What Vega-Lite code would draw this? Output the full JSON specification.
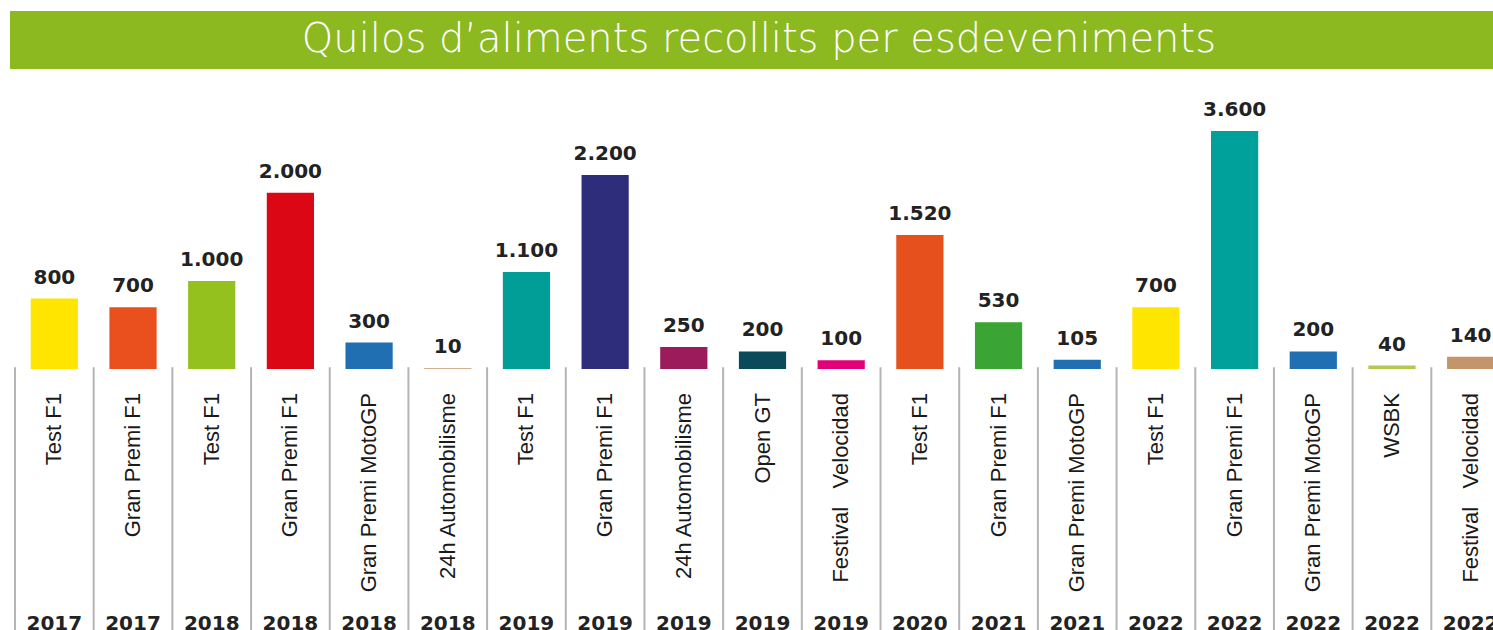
{
  "$schema": "https://vega.github.io/schema/vega-lite/v6.json",
  "padding": {"left": 10, "top": 11, "right": 0, "bottom": 0},
  "background": "white",
  "spacing": 31,
  "config": {
    "view": {"stroke": null},
    "locale": {"number": {"decimal": ",", "thousands": ".", "grouping": [3], "currency": ["", " €"]}}
  },
  "vconcat": [
    {
      "width": 1483,
      "height": 58,
      "view": {"fill": "#8CB820", "stroke": null},
      "data": {"values": [{"title": "Quilos d’aliments recollits per esdeveniments"}]},
      "mark": {"type": "text", "font": "DejaVu Sans", "fontSize": 40, "fontWeight": 300, "color": "white", "baseline": "middle", "align": "center"},
      "encoding": {
        "x": {"datum": 0.505, "type": "quantitative", "scale": {"domain": [0, 1]}, "axis": null},
        "y": {"datum": 0.5, "type": "quantitative", "scale": {"domain": [0, 1]}, "axis": null},
        "text": {"field": "title"}
      }
    },
    {
      "width": 1483,
      "height": 500,
      "data": {"values": [
        {"id": 1, "event": "Test F1", "year": "2017", "kg": 800},
        {"id": 2, "event": "Gran Premi F1", "year": "2017", "kg": 700},
        {"id": 3, "event": "Test F1", "year": "2018", "kg": 1000},
        {"id": 4, "event": "Gran Premi F1", "year": "2018", "kg": 2000},
        {"id": 5, "event": "Gran Premi MotoGP", "year": "2018", "kg": 300},
        {"id": 6, "event": "24h Automobilisme", "year": "2018", "kg": 10},
        {"id": 7, "event": "Test F1", "year": "2019", "kg": 1100},
        {"id": 8, "event": "Gran Premi F1", "year": "2019", "kg": 2200},
        {"id": 9, "event": "24h Automobilisme", "year": "2019", "kg": 250},
        {"id": 10, "event": "Open GT", "year": "2019", "kg": 200},
        {"id": 11, "event": "Festival\u00a0\u00a0 Velocidad", "year": "2019", "kg": 100},
        {"id": 12, "event": "Test F1", "year": "2020", "kg": 1520},
        {"id": 13, "event": "Gran Premi F1", "year": "2021", "kg": 530},
        {"id": 14, "event": "Gran Premi MotoGP", "year": "2021", "kg": 105},
        {"id": 15, "event": "Test F1", "year": "2022", "kg": 700},
        {"id": 16, "event": "Gran Premi F1", "year": "2022", "kg": 3600},
        {"id": 17, "event": "Gran Premi MotoGP", "year": "2022", "kg": 200},
        {"id": 18, "event": "WSBK", "year": "2022", "kg": 40},
        {"id": 19, "event": "Festival\u00a0\u00a0 Velocidad", "year": "2022", "kg": 140}
      ]},
      "encoding": {
        "x": {"field": "id", "type": "ordinal", "scale": {"range": [5, 1500], "paddingInner": 0, "paddingOuter": 0}, "axis": null}
      },
      "layer": [
        {
          "mark": {"type": "rule", "color": "#b4b4b4", "strokeWidth": 2},
          "encoding": {
            "x": {"field": "id", "type": "ordinal", "bandPosition": 0},
            "y": {"datum": 20, "type": "quantitative", "scale": {"domain": [-2971, 2700], "clamp": true, "nice": false, "zero": false}, "axis": null},
            "y2": {"datum": -2971}
          }
        },
        {
          "mark": {"type": "bar", "width": {"band": 0.6}},
          "encoding": {
            "y": {"field": "kg", "type": "quantitative"},
            "y2": {"datum": 0},
            "color": {
              "field": "id", "type": "ordinal", "legend": null,
              "scale": {
                "domain": [1,2,3,4,5,6,7,8,9,10,11,12,13,14,15,16,17,18,19],
                "range": ["#FFE500","#EA4F1E","#95C11F","#DC0714","#1F6FB2","#C4956A","#009E96","#2E2D7C","#9B1B5B","#0B4A5A","#E2007A","#E5501C","#3AA535","#1F6FB2","#FFE500","#00A19A","#1F6FB2","#B2C94F","#C4956A"]
              }
            }
          }
        },
        {
          "mark": {"type": "text", "font": "DejaVu Sans", "fontWeight": "bold", "fontSize": 20, "color": "#222222", "baseline": "alphabetic", "align": "center", "dy": -15},
          "encoding": {
            "y": {"field": "kg", "type": "quantitative"},
            "text": {"field": "kg", "type": "quantitative", "format": ",d"}
          }
        },
        {
          "mark": {"type": "text", "font": "Liberation Sans", "fontSize": 22, "color": "#1a1a1a", "angle": 270, "align": "right", "baseline": "middle"},
          "encoding": {
            "y": {"datum": -272, "type": "quantitative"},
            "text": {"field": "event"}
          }
        },
        {
          "mark": {"type": "text", "font": "DejaVu Sans", "fontWeight": "bold", "fontSize": 20, "color": "#222222", "baseline": "alphabetic", "align": "center"},
          "encoding": {
            "y": {"datum": -2960, "type": "quantitative"},
            "text": {"field": "year"}
          }
        }
      ]
    }
  ]
}
